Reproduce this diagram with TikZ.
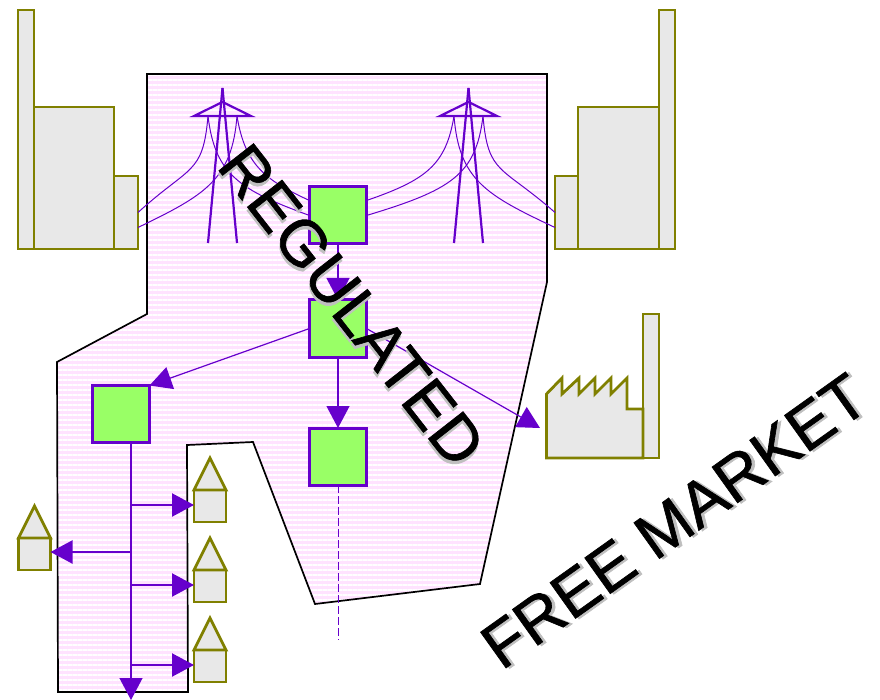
\documentclass[tikz,border=0pt]{standalone}
\usepackage{fontspec}
\setmainfont{Liberation Sans}
\newfontfamily\heavyfont[FakeBold=1]{Liberation Sans}
\usepackage{xcolor}
\usepackage{tikz}
\usetikzlibrary{arrows.meta, patterns.meta}
\definecolor{gridline}{HTML}{6600CC}
\definecolor{sitegreen}{HTML}{99FF66}
\definecolor{siteolive}{HTML}{808000}
\definecolor{sitegray}{HTML}{E8E8E8}
\definecolor{areapink}{HTML}{FFE3FF}
\newcommand{\shadowed}[1]{\rlap{\kern2.5pt\raisebox{-2.5pt}{\textcolor{black!25}{#1}}}\textcolor{black}{#1}}

\begin{document}
\begin{tikzpicture}[x=1pt, y=-1pt]
\tikzstyle{area} = [draw=black, line width=1.7pt, preaction={fill=areapink}, pattern={Lines[angle=0,distance=5pt,line width=1.5pt]}, pattern color=white]
\tikzstyle{station} = [rectangle, minimum size=57pt, inner sep=0pt, outer sep=0pt, draw=gridline, fill=sitegreen, line width=3pt]
\tikzstyle{block} = [rectangle, inner sep=0pt, outer sep=0pt, draw=siteolive, fill=sitegray, line width=2.8pt]
\tikzstyle{house} = [block, minimum size=32pt]
\tikzstyle{arrow} = [draw=gridline, line width=1.2pt, -{Triangle[length=22pt,width=23pt]}]
\tikzstyle{branch} = [arrow, line width=2.2pt]
\tikzstyle{cable} = [draw=gridline, line width=1pt]
\tikzstyle{tower} = [draw=gridline, line width=2.2pt]
\tikzstyle{bigtext} = [font=\heavyfont\fontsize{64}{64}\selectfont, inner sep=0pt]

\useasboundingbox (0,0) rectangle (880,700);

% regulated area
\draw [area] (147,74) -- (547,74) -- (547,282) -- (480,584) -- (315,604) -- (253,442) -- (187,445) -- (188,692) -- (58,692) -- (57,362) -- (147,314) -- cycle;

% power plants
\node (chimneyL) [block, minimum width=16pt, minimum height=239pt] at (26,129.5) {};
\node (hallL) [block, minimum width=80pt, minimum height=142pt] at (74,178) {};
\node (plantL) [block, minimum width=24pt, minimum height=73pt] at (126,212.5) {};
\node (chimneyR) [block, minimum width=16pt, minimum height=239pt] at (667,129.5) {};
\node (hallR) [block, minimum width=81pt, minimum height=142pt] at (618.5,178) {};
\node (plantR) [block, minimum width=23pt, minimum height=73pt] at (566.5,212.5) {};

% factory
\node (chimneyF) [block, minimum width=16pt, minimum height=144pt] at (651,386) {};
\draw [block] (643,458) -- (546.5,458) -- (546.5,394) -- (562,378) -- (562,394) -- (579,378) -- (579,394) -- (595,378) -- (595,394) -- (611,378) -- (611,394) -- (627,378) -- (627,409) -- (643,409) -- cycle;
\coordinate (factory) at (540,428);

% houses
\foreach \n/\x/\y in {h1/210/506, h2/210/586, h3/210/666, h4/34.5/554} {
  \node (\n) [house] at (\x,\y) {};
  \draw [block] (\n.north west) -- ++(16,-32) -- (\n.north east) -- cycle;
}

% pylons
\foreach \n/\x in {A/222.5, B/468.5} {
  \coordinate (\n top) at (\x,88);
  \coordinate (\n left) at (\x-14.5,116);
  \coordinate (\n right) at (\x+14.5,116);
  \draw [tower] (\n top) -- (\x-14.5,243);
  \draw [tower] (\n top) -- (\x+14.5,243);
  \draw [tower] (\x-28.5,116) -- (\x+28.5,116) -- (\x,102) -- cycle;
}

% stations
\node (feed) [station] at (338,215.5) {};
\node (hub) [station] at (338,328.5) {};
\node (west) [station] at (121,414) {};
\node (south) [station] at (338,456.5) {};

% lines from the plants
\draw [cable] (Aleft) .. controls (203,175) and (190,165) .. (plantL.east);
\draw [cable] (Aright) .. controls (232,180) and (205,195) .. ([yshift=-15pt]plantL.east);
\draw [cable] (Aleft) .. controls (215,175) and (240,190) .. (feed.west);
\draw [cable] (Aright) .. controls (245,165) and (265,180) .. ([yshift=15pt]feed.west);
\draw [cable] (Bright) .. controls (488,175) and (501,165) .. (plantR.west);
\draw [cable] (Bleft) .. controls (459,180) and (486,195) .. ([yshift=-15pt]plantR.west);
\draw [cable] (Bright) .. controls (476,175) and (451,190) .. (feed.east);
\draw [cable] (Bleft) .. controls (446,165) and (426,180) .. ([yshift=15pt]feed.east);

% distribution
\draw [arrow] (feed) -- (hub);
\draw [arrow] (hub.west) -- (west.north east);
\draw [arrow] (hub.south) -- (south.north);
\draw [arrow] (hub.east) -- (factory);
\coordinate (southEnd) at (338,640);
\draw [cable, dash pattern=on 8pt off 3pt] (south.south) -- (southEnd);

\coordinate (trunk) at ([xshift=10pt]west.south);
\coordinate (trunkEnd) at (131,700);
\draw [arrow] (trunk) -- (trunkEnd);
\draw [branch] (trunk |- h1.west) ++(0,-1) -- ([yshift=1pt]h1.west);
\draw [branch] (trunk |- h2.west) ++(0,-1) -- ([yshift=1pt]h2.west);
\draw [branch] (trunk |- h3.west) ++(0,-1) -- ([yshift=1pt]h3.west);
\draw [branch] (trunk |- h4.east) ++(0,-2) -- ([yshift=2pt]h4.east);

% labels
\node (regulated) [bigtext, rotate=-52] at (351,306) {\shadowed{REGULATED}};
\node (market) [bigtext, rotate=35.5] at (675,522) {\shadowed{FREE MARKET}};
\end{tikzpicture}
\end{document}
